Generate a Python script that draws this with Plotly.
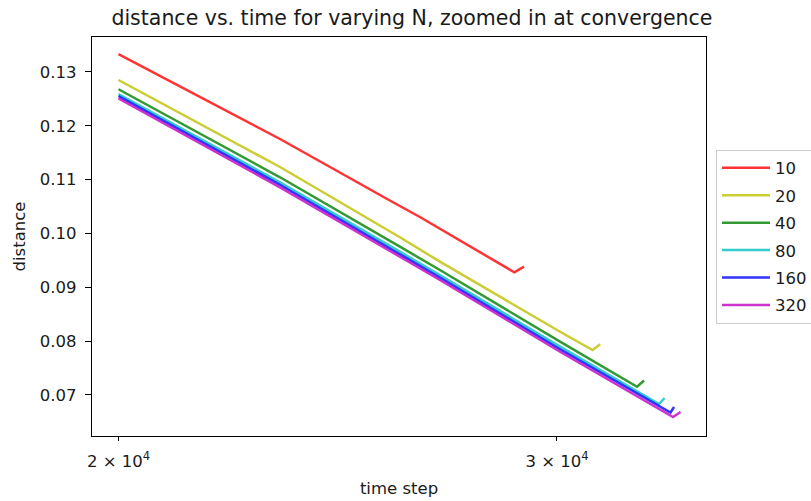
import plotly.graph_objects as go

# Distance vs. time step near convergence, one series per N
n_values = ["10", "20", "40", "80", "160", "320"]

time_10 = [20000, 23222, 25704, 26428, 28840, 29100]
dist_10 = [0.1333, 0.11755, 0.10613, 0.10306, 0.09279, 0.09383]

time_20 = [20000, 23222, 25944, 26922, 30086, 31002, 31224]
dist_20 = [0.12851, 0.11235, 0.0993, 0.09476, 0.08175, 0.07836, 0.07942]

time_40 = [20000, 23222, 25944, 26922, 30086, 32306, 32516]
dist_40 = [0.12679, 0.11044, 0.09755, 0.09322, 0.0799, 0.07152, 0.07269]

time_80 = [20000, 23222, 25944, 26922, 30086, 32970, 33138]
dist_80 = [0.12591, 0.10951, 0.09662, 0.09229, 0.07897, 0.06832, 0.06944]

time_160 = [20000, 23222, 25944, 26922, 30086, 33322, 33430]
dist_160 = [0.12554, 0.10905, 0.09615, 0.09182, 0.0785, 0.06674, 0.06777]

time_320 = [20000, 23222, 25944, 26922, 30086, 33400, 33632]
dist_320 = [0.12511, 0.10858, 0.09569, 0.09136, 0.07804, 0.06591, 0.06684]

x_tick_vals = [20000, 30000]
x_tick_text = ["2 × 10<sup>4</sup>", "3 × 10<sup>4</sup>"]
y_tick_vals = [0.07, 0.08, 0.09, 0.10, 0.11, 0.12, 0.13]
y_tick_text = ["0.07", "0.08", "0.09", "0.10", "0.11", "0.12", "0.13"]

series_x = [time_10, time_20, time_40, time_80, time_160, time_320]
series_y = [dist_10, dist_20, dist_40, dist_80, dist_160, dist_320]
colors = [
    "rgba(255,0,0,0.8)",
    "rgba(191,191,0,0.8)",
    "rgba(0,128,0,0.8)",
    "rgba(0,191,191,0.8)",
    "rgba(0,0,255,0.8)",
    "rgba(191,0,191,0.8)",
]

FONT = "DejaVu Sans"
TXT = "#1a1a1a"
TICK_SIZE = 16.5

fig = go.Figure()
for name, xs, ys, col in zip(n_values, series_x, series_y, colors):
    fig.add_trace(go.Scatter(
        x=xs, y=ys, mode="lines", name=name,
        line=dict(color=col, width=2.5),
        legendgroup=name,
    ))

fig.update_layout(
    width=811, height=501,
    margin=dict(l=92, r=105, t=37, b=65, autoexpand=False),
    paper_bgcolor="white", plot_bgcolor="white",
    font=dict(family=FONT, size=TICK_SIZE, color=TXT),
    title=dict(
        text="distance vs. time for varying N, zoomed in at convergence",
        x=0.521, xref="paper", xanchor="center",
        y=1 - 18 / 501, yref="container", yanchor="middle",
        font=dict(family=FONT, size=20.5, color=TXT),
    ),
    showlegend=True,
    legend=dict(
        x=1.0163, xanchor="left", y=0.5, yanchor="middle",
        bgcolor="white", bordercolor="#cccccc", borderwidth=1,
        font=dict(family=FONT, size=TICK_SIZE, color=TXT),
        tracegroupgap=3,
        itemwidth=48,
    ),
)

fig.update_xaxes(
    type="log", range=[4.29039, 4.53697],
    tickvals=x_tick_vals, ticktext=x_tick_text,
    ticks="outside", ticklen=4, tickwidth=1.2, tickcolor="#000",
    ticklabelstandoff=6,
    showline=True, linecolor="#000", linewidth=1.2, mirror=True,
    showgrid=False, zeroline=False,
    tickfont=dict(family=FONT, size=TICK_SIZE, color=TXT),
    title=dict(text="time step", font=dict(family=FONT, size=TICK_SIZE, color=TXT), standoff=12),
)
fig.update_yaxes(
    range=[0.06238, 0.1365],
    tickvals=y_tick_vals, ticktext=y_tick_text,
    ticks="outside", ticklen=6, tickwidth=1.2, tickcolor="#000",
    ticklabelstandoff=5,
    showline=True, linecolor="#000", linewidth=1.2, mirror=True,
    showgrid=False, zeroline=False,
    tickfont=dict(family=FONT, size=TICK_SIZE, color=TXT),
    title=dict(text="distance", font=dict(family=FONT, size=TICK_SIZE, color=TXT), standoff=10),
)

fig.write_html("out.html")
